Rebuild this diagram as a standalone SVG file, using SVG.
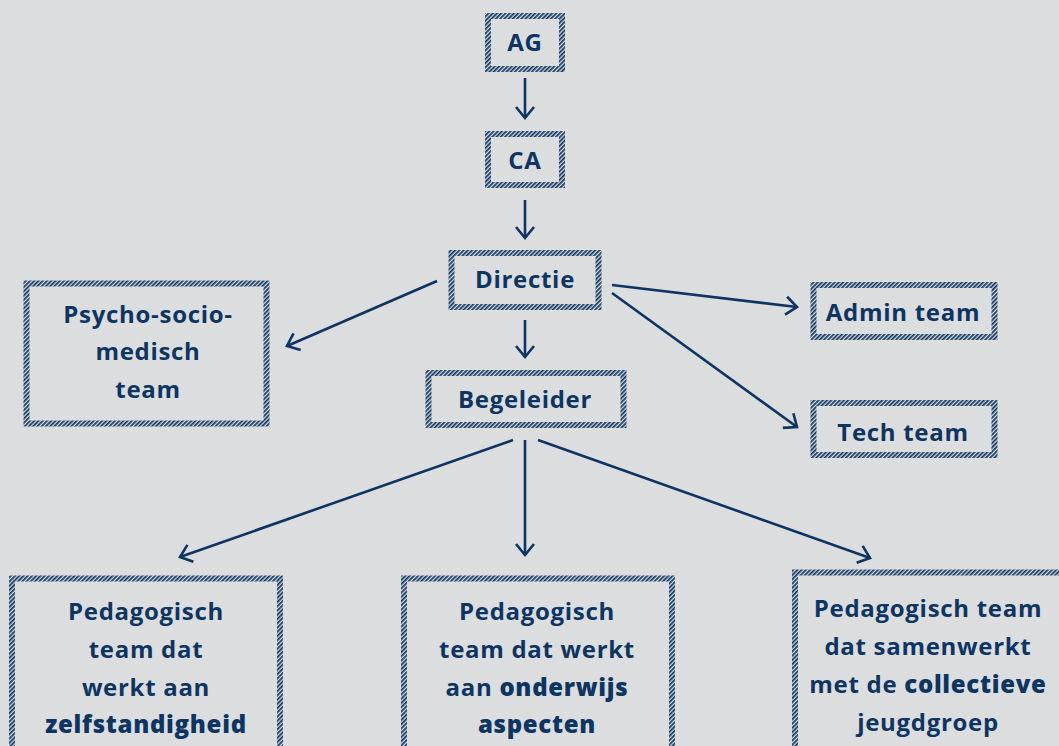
<svg xmlns="http://www.w3.org/2000/svg" width="1059" height="746" viewBox="0 0 1059 746">
<defs>
<pattern id="hatch" patternUnits="userSpaceOnUse" width="3" height="3" patternTransform="rotate(45)">
<rect x="0" y="0" width="1.7" height="3" fill="#0e3562"/>
</pattern>
<marker id="arr" markerUnits="userSpaceOnUse" markerWidth="30" markerHeight="30" refX="0" refY="0" viewBox="-15 -15 30 30" orient="auto" overflow="visible">
<path d="M-11,-9 L0,0 L-11,9" fill="none" stroke="#0e3562" stroke-width="2.6"/>
</marker>
</defs>
<style>
.box{fill:none;stroke:url(#hatch);stroke-width:6}
.t{font-family:"Open Sans",Lato,"Liberation Sans",sans-serif;font-weight:700;font-size:24px;fill:#0e3562;text-anchor:middle;letter-spacing:0.7px}
.h{font-weight:800}
.c{fill:none;stroke:#0e3562;stroke-width:2.6;marker-end:url(#arr)}
</style>
<rect width="1059" height="746" fill="#dcdddf"/>
<g id="connectors">
<line class="c" x1="525" y1="78" x2="525" y2="118"/>
<line class="c" x1="525" y1="200" x2="525" y2="238"/>
<line class="c" x1="525" y1="320" x2="525" y2="357"/>
<line class="c" x1="437" y1="281" x2="287" y2="346"/>
<line class="c" x1="612" y1="285" x2="797" y2="307"/>
<line class="c" x1="612" y1="293" x2="797" y2="427"/>
<line class="c" x1="513" y1="440" x2="180" y2="557"/>
<line class="c" x1="525" y1="440" x2="525" y2="555"/>
<line class="c" x1="538" y1="440" x2="870" y2="558"/>
</g>
<g id="ag"><rect class="box" x="488" y="16" width="74" height="53"/><text class="t" x="525" y="51">AG</text></g>
<g id="ca"><rect class="box" x="488" y="134" width="74" height="51"/><text class="t" x="525" y="169">CA</text></g>
<g id="directie"><rect class="box" x="451.5" y="253" width="147" height="54"/><text class="t" x="525" y="288">Directie</text></g>
<g id="psycho"><rect class="box" x="26.5" y="283.5" width="240" height="140"/>
<text class="t" x="148" y="323">Psycho-socio-</text><text class="t" x="148" y="360">medisch</text><text class="t" x="148" y="398">team</text></g>
<g id="admin"><rect class="box" x="813.5" y="285" width="181" height="52"/><text class="t" x="903" y="321">Admin team</text></g>
<g id="begeleider"><rect class="box" x="428.5" y="373" width="195" height="52"/><text class="t" x="525" y="408">Begeleider</text></g>
<g id="tech"><rect class="box" x="813.5" y="403" width="181" height="52"/><text class="t" x="903" y="441">Tech team</text></g>
<g id="ped1"><rect class="box" x="12" y="578.5" width="268" height="200"/>
<text class="t" x="146" y="620">Pedagogisch</text><text class="t" x="146" y="658">team dat</text><text class="t" x="146" y="696">werkt aan</text><text class="t h" x="146" y="733">zelfstandigheid</text></g>
<g id="ped2"><rect class="box" x="404" y="578.5" width="268" height="200"/>
<text class="t" x="537" y="620">Pedagogisch</text><text class="t" x="537" y="658">team dat werkt</text><text class="t" x="537" y="696">aan <tspan class="h">onderwijs</tspan></text><text class="t h" x="537" y="733">aspecten</text></g>
<g id="ped3"><rect class="box" x="795" y="572.5" width="272" height="200"/>
<text class="t" x="928" y="617">Pedagogisch team</text><text class="t" x="928" y="655">dat samenwerkt</text><text class="t" x="928" y="693">met de <tspan class="h">collectieve</tspan></text><text class="t" x="928" y="731">jeugdgroep</text></g>
</svg>
